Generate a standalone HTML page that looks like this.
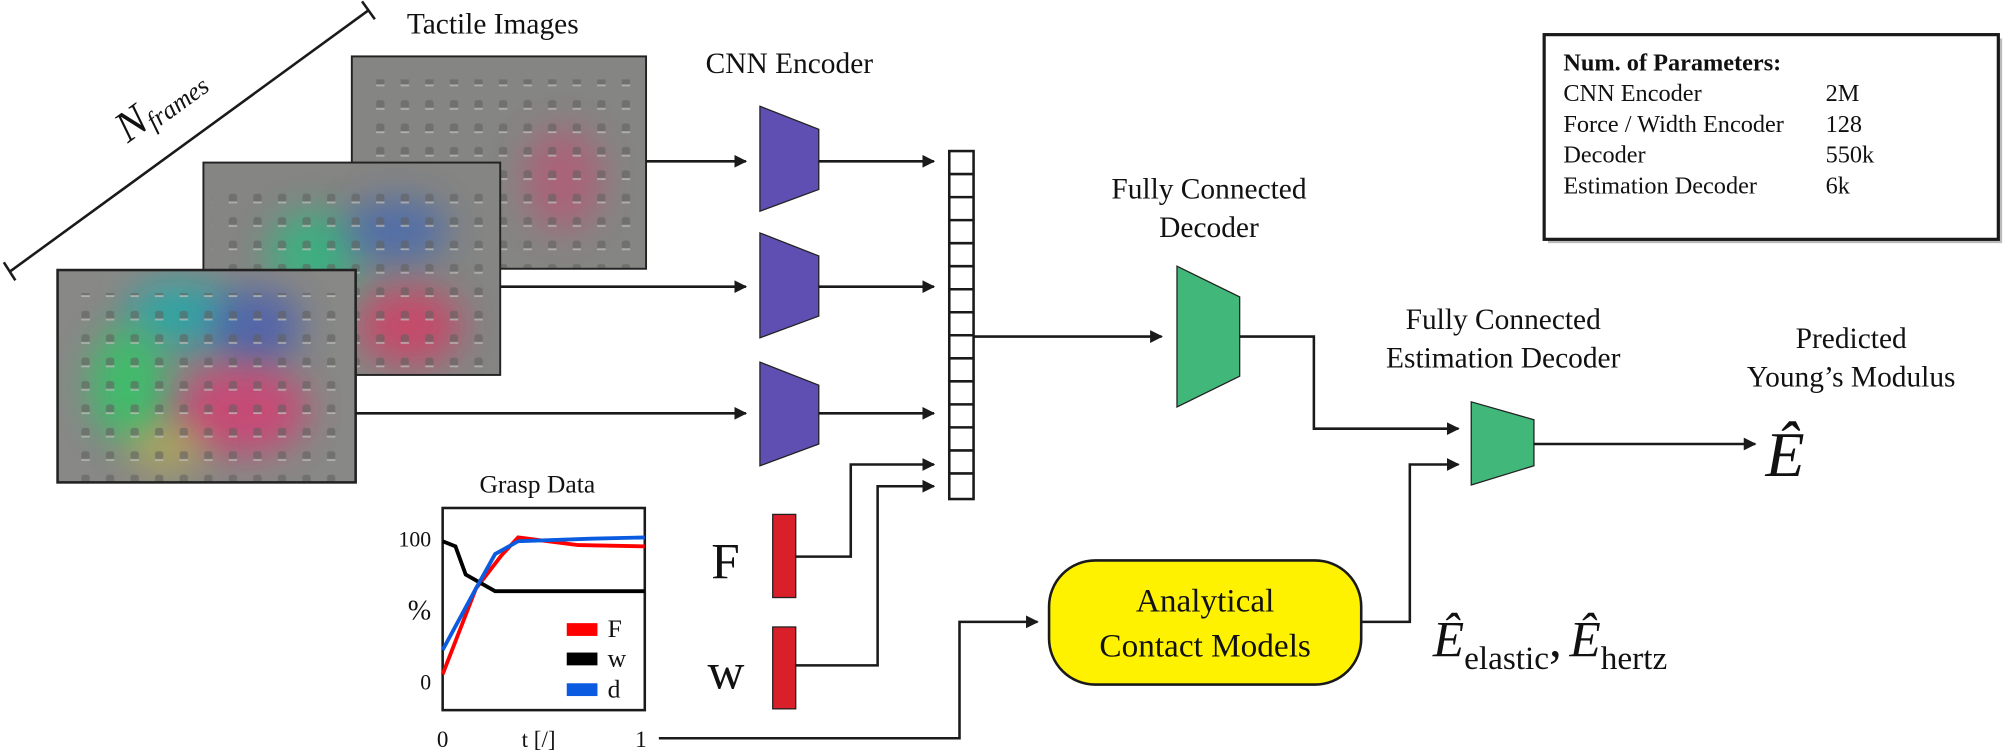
<!DOCTYPE html>
<html><head><meta charset="utf-8"><style>
html,body{margin:0;padding:0;background:#fff;}
svg{display:block;font-family:"Liberation Serif","DejaVu Serif",serif;}
text{font-family:"Liberation Serif","DejaVu Serif",serif;fill:#111;}
</style></head><body>
<svg width="2006" height="755" viewBox="0 0 1568 590" xmlns="http://www.w3.org/2000/svg" font-family="Liberation Serif, DejaVu Serif, serif">
<defs>
<marker id="ar" markerWidth="10" markerHeight="10" refX="9" refY="5" orient="auto" markerUnits="userSpaceOnUse">
<path d="M0,0 L10,5 L0,10 Z" fill="#1a1a1a"/></marker>
<filter id="bl" x="-50%" y="-50%" width="200%" height="200%"><feGaussianBlur stdDeviation="14"/></filter>
<pattern id="d10" x="0" y="0" width="19.2" height="18.3" patternUnits="userSpaceOnUse">
<rect x="6" y="5" width="6.5" height="7" rx="2" fill="#5e5e5c" opacity="0.55"/>
<rect x="6" y="11" width="6.5" height="1.5" fill="#d0d0cc" opacity="0.6"/>
</pattern>
<clipPath id="c1"><rect x="275" y="44" width="230" height="166"/></clipPath>
<clipPath id="c2"><rect x="159" y="127" width="232" height="166"/></clipPath>
<clipPath id="c3"><rect x="45" y="211" width="233" height="166"/></clipPath>
</defs>

<line x1="8" y1="212" x2="288" y2="8" stroke="#1a1a1a" stroke-width="2"/>
<line x1="3" y1="205" x2="12" y2="219" stroke="#1a1a1a" stroke-width="2"/>
<line x1="283" y1="1" x2="293" y2="15" stroke="#1a1a1a" stroke-width="2"/>
<text transform="translate(100,112) rotate(-36)" font-size="34" font-style="italic">N<tspan font-size="20" dy="4">frames</tspan></text>

<text x="318" y="26" font-size="23">Tactile Images</text>

<g clip-path="url(#c1)">
<rect x="275" y="44" width="230" height="166" fill="#858583"/>
<ellipse cx="440" cy="140" rx="30" ry="40" fill="#d04070" opacity="0.5" filter="url(#bl)"/>
<rect x="283" y="62" width="210" height="150" fill="url(#d10)"/>
</g>
<rect x="275" y="44" width="230" height="166" fill="none" stroke="#222" stroke-width="1.5"/>

<g clip-path="url(#c2)">
<rect x="159" y="127" width="232" height="166" fill="#858583"/>
<ellipse cx="245" cy="200" rx="35" ry="35" fill="#20c080" opacity="0.7" filter="url(#bl)"/>
<ellipse cx="310" cy="180" rx="40" ry="25" fill="#3060c0" opacity="0.6" filter="url(#bl)"/>
<ellipse cx="320" cy="255" rx="40" ry="30" fill="#e03060" opacity="0.7" filter="url(#bl)"/>
<rect x="166" y="145" width="215" height="150" fill="url(#d10)"/>
</g>
<rect x="159" y="127" width="232" height="166" fill="none" stroke="#222" stroke-width="1.5"/>

<g clip-path="url(#c3)">
<rect x="45" y="211" width="233" height="166" fill="#888886"/>
<ellipse cx="140" cy="245" rx="40" ry="25" fill="#10b0b0" opacity="0.7" filter="url(#bl)"/>
<ellipse cx="200" cy="255" rx="35" ry="30" fill="#3050c0" opacity="0.6" filter="url(#bl)"/>
<ellipse cx="100" cy="300" rx="30" ry="45" fill="#20d060" opacity="0.7" filter="url(#bl)"/>
<ellipse cx="190" cy="320" rx="50" ry="35" fill="#e03070" opacity="0.7" filter="url(#bl)"/>
<ellipse cx="130" cy="350" rx="30" ry="20" fill="#d0c040" opacity="0.5" filter="url(#bl)"/>
<rect x="53" y="229" width="212" height="148" fill="url(#d10)"/>
</g>
<rect x="45" y="211" width="233" height="166" fill="none" stroke="#222" stroke-width="2"/>

<text x="617" y="57" font-size="23" text-anchor="middle">CNN Encoder</text>

<line x1="505" y1="126" x2="583" y2="126" stroke="#1a1a1a" stroke-width="2" marker-end="url(#ar)"/>
<line x1="391" y1="224" x2="583" y2="224" stroke="#1a1a1a" stroke-width="2" marker-end="url(#ar)"/>
<line x1="278" y1="323" x2="583" y2="323" stroke="#1a1a1a" stroke-width="2" marker-end="url(#ar)"/>

<g fill="#5f4fb2" stroke="#222" stroke-width="1">
<polygon points="594,83 640,101 640,148 594,165"/>
<polygon points="594,182 640,200 640,247 594,264"/>
<polygon points="594,283 640,301 640,347 594,364"/>
</g>
<line x1="640" y1="126" x2="730" y2="126" stroke="#1a1a1a" stroke-width="2" marker-end="url(#ar)"/>
<line x1="640" y1="224" x2="730" y2="224" stroke="#1a1a1a" stroke-width="2" marker-end="url(#ar)"/>
<line x1="640" y1="323" x2="730" y2="323" stroke="#1a1a1a" stroke-width="2" marker-end="url(#ar)"/>

<rect x="742" y="118" width="19" height="272" fill="#fff" stroke="#1a1a1a" stroke-width="2"/>
<g stroke="#1a1a1a" stroke-width="2">
<line x1="742" y1="136" x2="761" y2="136"/><line x1="742" y1="154" x2="761" y2="154"/>
<line x1="742" y1="172" x2="761" y2="172"/><line x1="742" y1="190" x2="761" y2="190"/>
<line x1="742" y1="208" x2="761" y2="208"/><line x1="742" y1="226" x2="761" y2="226"/>
<line x1="742" y1="244" x2="761" y2="244"/><line x1="742" y1="262" x2="761" y2="262"/>
<line x1="742" y1="280" x2="761" y2="280"/><line x1="742" y1="298" x2="761" y2="298"/>
<line x1="742" y1="316" x2="761" y2="316"/><line x1="742" y1="334" x2="761" y2="334"/>
<line x1="742" y1="352" x2="761" y2="352"/><line x1="742" y1="370" x2="761" y2="370"/>
</g>

<line x1="761" y1="263" x2="908" y2="263" stroke="#1a1a1a" stroke-width="2" marker-end="url(#ar)"/>
<text x="945" y="155" font-size="23" text-anchor="middle">Fully Connected</text>
<text x="945" y="185" font-size="23" text-anchor="middle">Decoder</text>
<polygon points="920,208 969,232 969,294 920,318" fill="#41b87a" stroke="#222" stroke-width="1"/>
<polyline points="969,263 1027,263 1027,335 1140,335" fill="none" stroke="#1a1a1a" stroke-width="2" marker-end="url(#ar)"/>

<text x="1175" y="257" font-size="23" text-anchor="middle">Fully Connected</text>
<text x="1175" y="287" font-size="23" text-anchor="middle">Estimation Decoder</text>
<polygon points="1150,314 1199,328 1199,364 1150,379" fill="#41b87a" stroke="#222" stroke-width="1"/>
<line x1="1199" y1="347" x2="1372" y2="347" stroke="#1a1a1a" stroke-width="2" marker-end="url(#ar)"/>

<text x="1447" y="272" font-size="23" text-anchor="middle">Predicted</text>
<text x="1447" y="302" font-size="23" text-anchor="middle">Young’s Modulus</text>
<text x="1380" y="372" font-size="50" font-style="italic">Ê</text>

<rect x="1210" y="30" width="355" height="160" fill="#bbb"/>
<rect x="1207" y="27" width="355" height="160" fill="#fff" stroke="#1a1a1a" stroke-width="2.5"/>
<text x="1222" y="55" font-size="19" font-weight="bold">Num. of Parameters:</text>
<text x="1222" y="79" font-size="19">CNN Encoder</text><text x="1427" y="79" font-size="19">2M</text>
<text x="1222" y="103" font-size="19">Force / Width Encoder</text><text x="1427" y="103" font-size="19">128</text>
<text x="1222" y="127" font-size="19">Decoder</text><text x="1427" y="127" font-size="19">550k</text>
<text x="1222" y="151" font-size="19">Estimation Decoder</text><text x="1427" y="151" font-size="19">6k</text>

<text x="420" y="385" font-size="20" text-anchor="middle">Grasp Data</text>
<rect x="346" y="397" width="158" height="158" fill="#fff" stroke="#1a1a1a" stroke-width="2"/>
<polyline points="346,527 372,460 392,434 405,420 452,426 504,427" fill="none" stroke="#f00" stroke-width="3"/>
<polyline points="346,423 356,427 364,449 387,462 504,462" fill="none" stroke="#000" stroke-width="3"/>
<polyline points="346,508 372,460 387,433 405,423 462,421 504,420" fill="none" stroke="#0a5be0" stroke-width="3"/>
<rect x="443" y="487" width="24" height="10" fill="#f00"/>
<rect x="443" y="510" width="24" height="10" fill="#000"/>
<rect x="443" y="534" width="24" height="10" fill="#0a5be0"/>
<text x="475" y="498" font-size="20">F</text>
<text x="475" y="521" font-size="20">w</text>
<text x="475" y="545" font-size="20">d</text>
<text x="337" y="427" font-size="17" text-anchor="end">100</text>
<text x="337" y="484" font-size="22" text-anchor="end">%</text>
<text x="337" y="539" font-size="17" text-anchor="end">0</text>
<text x="346" y="584" font-size="18" text-anchor="middle">0</text>
<text x="421" y="584" font-size="18" text-anchor="middle">t [/]</text>
<text x="501" y="584" font-size="18" text-anchor="middle">1</text>

<text x="556" y="452" font-size="40">F</text>
<text x="553" y="538" font-size="40">w</text>
<rect x="604" y="402" width="18" height="65" fill="#d81f2a" stroke="#222" stroke-width="1"/>
<rect x="604" y="490" width="18" height="64" fill="#d81f2a" stroke="#222" stroke-width="1"/>
<polyline points="622,435 665,435 665,363 730,363" fill="none" stroke="#1a1a1a" stroke-width="2" marker-end="url(#ar)"/>
<polyline points="622,520 686,520 686,380 730,380" fill="none" stroke="#1a1a1a" stroke-width="2" marker-end="url(#ar)"/>

<polyline points="515,577 750,577 750,486 811,486" fill="none" stroke="#1a1a1a" stroke-width="2" marker-end="url(#ar)"/>
<rect x="820" y="438" width="244" height="97" rx="36" fill="#fff200" stroke="#1a1a1a" stroke-width="2"/>
<text x="942" y="478" font-size="26" text-anchor="middle">Analytical</text>
<text x="942" y="513" font-size="26" text-anchor="middle">Contact  Models</text>
<polyline points="1064,486 1102,486 1102,363 1140,363" fill="none" stroke="#1a1a1a" stroke-width="2" marker-end="url(#ar)"/>

<text x="1120" y="513" font-size="40" font-style="italic">Ê<tspan font-style="normal" font-size="26" dy="10">elastic</tspan><tspan font-style="normal" dy="-10">,</tspan><tspan dx="6">Ê</tspan><tspan font-style="normal" font-size="26" dy="10">hertz</tspan></text>
</svg>
</body></html>
